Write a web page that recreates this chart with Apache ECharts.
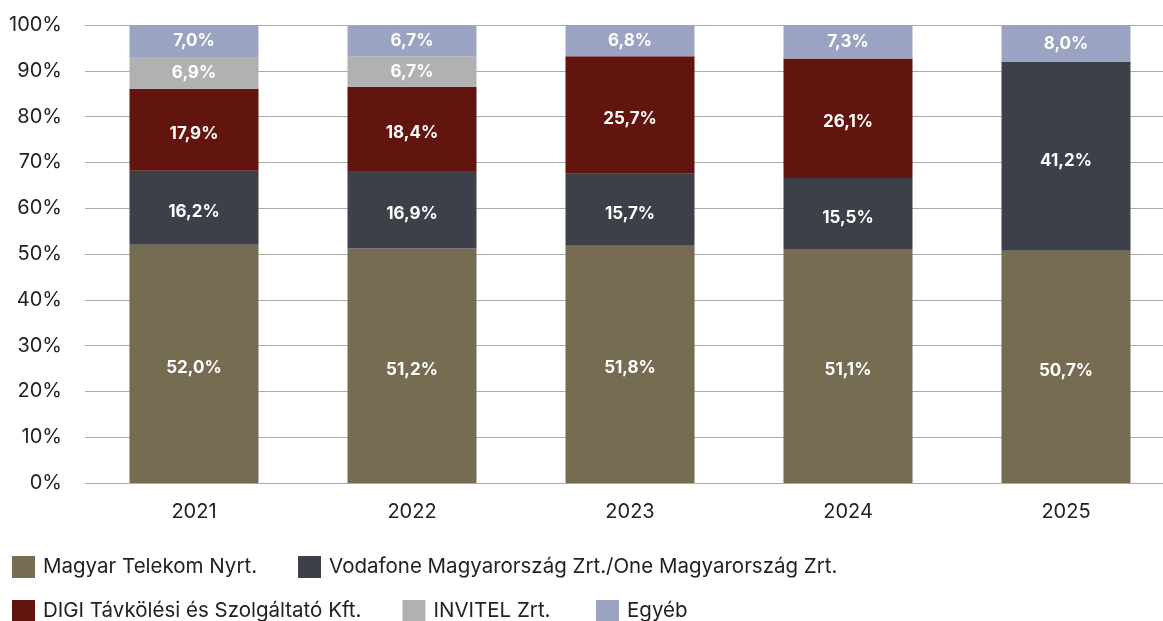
<!DOCTYPE html>
<html>
<head>
<meta charset="utf-8">
<script src="https://cdn.jsdelivr.net/npm/echarts@6/dist/echarts.min.js"></script>
<style>
  html, body { margin: 0; padding: 0; background: #fff; }
  #chart { width: 1163px; height: 621px; }
</style>
</head>
<body>
<div id="chart"></div>
<script>
const years = ['2021', '2022', '2023', '2024', '2025']
const telekom = [52.0, 51.2, 51.8, 51.1, 50.7]
const vodafone = [16.2, 16.9, 15.7, 15.5, 41.2]
const digi = [17.9, 18.4, 25.7, 26.1, null]
const invitel = [6.9, 6.7, null, null, null]
const egyeb = [7.0, 6.7, 6.8, 7.3, 8.0]

const names = [
  'Magyar Telekom Nyrt.',
  'Vodafone Magyarország Zrt./One Magyarország Zrt.',
  'DIGI Távkölési és Szolgáltató Kft.',
  'INVITEL Zrt.',
  'Egyéb'
]
const colors = ['#766c52', '#3e4049', '#62140f', '#b1b1b1', '#9aa3c2']
const values = [telekom, vodafone, digi, invitel, egyeb]

const font = 'Inter, Liberation Sans, Arial, sans-serif'

const series = values.map((data, i) => ({
  name: names[i],
  type: 'bar',
  stack: 'total',
  barWidth: 129,
  data: data,
  itemStyle: { color: colors[i] },
  label: {
    show: true,
    position: 'inside',
    // the big segments have their labels a bit below the middle
    offset: i < 3 ? [0, 4] : [0, 0],
    color: '#fff',
    fontWeight: 'bold',
    fontSize: 17,
    fontFamily: font,
    formatter: p => p.value == null ? '' : p.value.toFixed(1).replace('.', ',') + '%'
  },
  emphasis: { disabled: true }
}))

const legendBase = {
  orient: 'horizontal',
  padding: 0,
  itemWidth: 23,
  itemHeight: 22,
  itemGap: 41,
  icon: 'rect',
  textStyle: { fontSize: 20.5, color: '#222', fontFamily: font, padding: [0, 0, 0, 3] },
  selectedMode: false
}

const chart = echarts.init(document.getElementById('chart'))
chart.setOption({
  animation: false,
  color: colors,
  grid: { left: 85, top: 25, width: 1090, height: 458, outerBoundsMode: 'none', containLabel: false },
  legend: [
    Object.assign({}, legendBase, { left: 12, top: 556, data: [names[0], names[1]] }),
    Object.assign({}, legendBase, { left: 12, top: 600, data: [names[2], names[3]] }),
    Object.assign({}, legendBase, { left: 596, top: 600, data: [names[4]] })
  ],
  xAxis: {
    type: 'category',
    data: years,
    axisLine: { show: false },
    axisTick: { show: false },
    axisLabel: { fontSize: 20, color: '#222', fontFamily: font, margin: 19 }
  },
  yAxis: {
    type: 'value',
    min: 0,
    max: 100,
    interval: 10,
    axisLabel: { formatter: '{value}%', fontSize: 20, color: '#222', fontFamily: font, margin: 23 },
    splitLine: { lineStyle: { color: '#aaa', width: 1 } }
  },
  series: series
})
</script>
</body>
</html>
